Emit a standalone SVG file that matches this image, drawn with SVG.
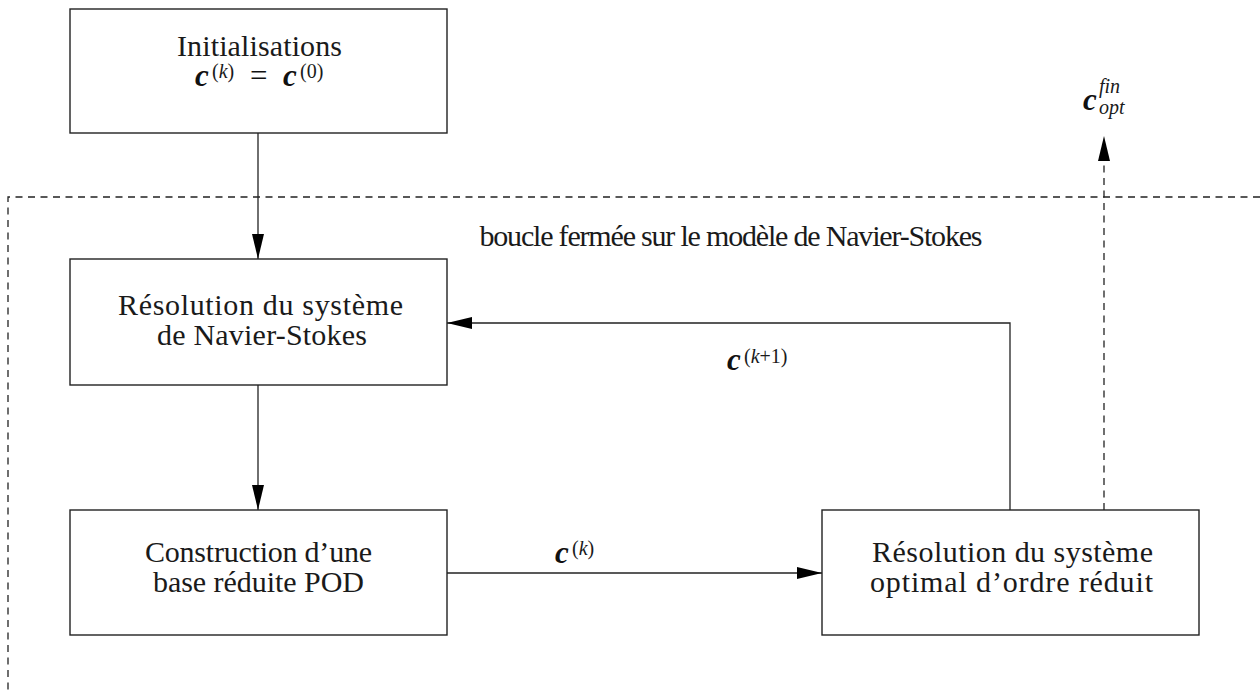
<svg xmlns="http://www.w3.org/2000/svg" width="1260" height="698" viewBox="0 0 1260 698">
<style>
.box{fill:#fff;stroke:#222;stroke-width:1.4}
.t{font-family:"Liberation Serif","DejaVu Serif",serif;font-size:30px;fill:#1a1a1a;text-anchor:middle}
.m{font-family:"Liberation Serif","DejaVu Serif",serif;font-size:31px;fill:#111}
.c{font-style:italic;font-weight:bold}
.s{font-family:"Liberation Serif","DejaVu Serif",serif;font-size:20px;fill:#1a1a1a}
.i{font-style:italic}
.ln{fill:none;stroke:#222;stroke-width:1.3}
.dash{fill:none;stroke:#222;stroke-width:1.3;stroke-dasharray:7 5.5}
</style>
<defs>
<marker id="ah" markerUnits="userSpaceOnUse" markerWidth="26" markerHeight="13" refX="25" refY="6" orient="auto">
<path d="M0,0 L25,6 L0,12 z" fill="#000"/>
</marker>
</defs>
<rect width="1260" height="698" fill="#fff"/>
<g id="frame">
<path class="dash" d="M1260,197 H8 V692"/>
<text class="t" x="731" y="246" textLength="503">boucle fermée sur le modèle de Navier-Stokes</text>
</g>
<g id="connectors">
<path class="ln" d="M258,133 V259" marker-end="url(#ah)"/>
<path class="ln" d="M258,385 V510" marker-end="url(#ah)"/>
<path class="ln" d="M447,573 H822" marker-end="url(#ah)"/>
<path class="ln" d="M1010,510 V323 H447" marker-end="url(#ah)"/>
<path class="dash" d="M1104,510 V136" marker-end="url(#ah)"/>
<g id="lbl-k1">
<text class="m c" x="727" y="370">c</text>
<text class="s" x="744" y="363">(<tspan class="i">k</tspan>+1)</text>
</g>
<g id="lbl-k">
<text class="m c" x="555" y="563">c</text>
<text class="s" x="572" y="555">(<tspan class="i">k</tspan>)</text>
</g>
<g id="lbl-fin">
<text class="m c" x="1083" y="110">c</text>
<text class="s i" x="1099" y="93">fin</text>
<text class="s i" x="1099" y="114">opt</text>
</g>
</g>
<g id="n-init">
<rect class="box" x="70" y="9" width="377" height="124"/>
<text class="t" x="259.5" y="56" textLength="165">Initialisations</text>
<text class="m c" x="195" y="86">c</text>
<text class="s" x="212" y="78">(<tspan class="i">k</tspan>)</text>
<text class="m" x="250" y="86">=</text>
<text class="m c" x="283" y="86">c</text>
<text class="s" x="300" y="78">(0)</text>
</g>
<g id="n-ns">
<rect class="box" x="70" y="259" width="377" height="126"/>
<text class="t" x="260.5" y="315" textLength="285">Résolution du système</text>
<text class="t" x="262" y="345" textLength="210">de Navier-Stokes</text>
</g>
<g id="n-pod">
<rect class="box" x="70" y="510" width="377" height="125"/>
<text class="t" x="258.5" y="562" textLength="227">Construction d’une</text>
<text class="t" x="258.5" y="592" textLength="211">base réduite POD</text>
</g>
<g id="n-opt">
<rect class="box" x="822" y="510" width="377" height="125"/>
<text class="t" x="1012.5" y="562" textLength="281">Résolution du système</text>
<text class="t" x="1011.5" y="592" textLength="283">optimal d’ordre réduit</text>
</g>
</svg>
